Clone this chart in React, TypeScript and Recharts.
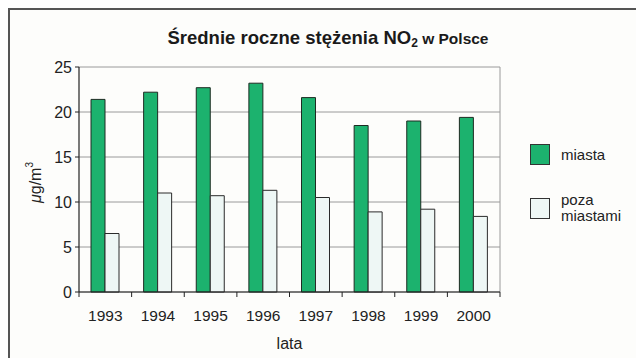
import { Bar, BarChart, CartesianGrid, ReferenceLine, XAxis, YAxis } from 'recharts';

// lata (years) and the two series
const years = ['1993', '1994', '1995', '1996', '1997', '1998', '1999', '2000'];
const miasta = [21.4, 22.2, 22.7, 23.2, 21.6, 18.5, 19.0, 19.4];
const pozaMiastami = [6.5, 11.0, 10.7, 11.3, 10.5, 8.9, 9.2, 8.4];
const yTicks = [0, 5, 10, 15, 20, 25];

const data = years.map((year, i) => ({ year, miasta: miasta[i], poza: pozaMiastami[i] }));

const GREEN = '#1cb26e';
const PALE = '#eef7f5';
const font = '"Liberation Sans", Arial, Helvetica, sans-serif';
const X_TICK_SIZE = 16;
const X_TICK_MARGIN = 2;

// year label plus the small tick marks that sit between the categories
const YearTick = ({ x, y, payload, index, width, visibleTicksCount }: any) => {
  const half = payload?.offset || width / visibleTicksCount / 2;
  const axisY = y - X_TICK_SIZE - X_TICK_MARGIN;
  const last = index === visibleTicksCount - 1;
  return (
    <g>
      <line x1={x - half} x2={x - half} y1={axisY} y2={axisY + 5} stroke="#222" />
      {last && <line x1={x + half} x2={x + half} y1={axisY} y2={axisY + 5} stroke="#222" />}
      <text x={x} y={y} dy="0.71em" textAnchor="middle" fontFamily={font} fontSize={15.5} fill="#222">
        {payload.value}
      </text>
    </g>
  );
};

const YLabel = ({ viewBox }: any) => {
  const cx = viewBox.x + 12;
  const cy = viewBox.y + viewBox.height / 2 + 3;
  return (
    <text
      x={cx}
      y={cy}
      transform={`rotate(-90 ${cx} ${cy})`}
      textAnchor="middle"
      dominantBaseline="central"
      fontFamily={font}
      fontSize={16}
      fill="#222"
    >
      <tspan fontStyle="italic">μ</tspan>g/m
      <tspan fontSize={10} dy={-6}>3</tspan>
    </text>
  );
};

const legendItems = [
  { fill: GREEN, lines: ['miasta'] },
  { fill: PALE, lines: ['poza', 'miastami'] },
];

const LegendBox = () => (
  <div style={{ position: 'absolute', left: 520, top: 134, fontFamily: font, fontSize: 15, color: '#222' }}>
    {legendItems.map((it, i) => (
      <div key={i} style={{ display: 'flex', alignItems: 'center', marginBottom: 27 }}>
        <div style={{ width: 18, height: 19, background: it.fill, border: '1px solid #333', flexShrink: 0 }} />
        <div style={{ marginLeft: 11, lineHeight: '16px' }}>
          {it.lines.map((l) => (
            <div key={l}>{l}</div>
          ))}
        </div>
      </div>
    ))}
  </div>
);

export default function App() {
  return (
    <div
      style={{
        position: 'relative',
        width: 636,
        height: 350,
        background: '#fdfdfb',
        borderTop: '2px solid #555',
        borderLeft: '2px solid #555',
        boxSizing: 'border-box',
      }}
    >
      <div
        style={{
          position: 'absolute',
          left: 0,
          width: 636,
          top: 17,
          textAlign: 'center',
          fontFamily: font,
          fontWeight: 'bold',
          fontSize: 18.5,
          color: '#1a1a1a',
          whiteSpace: 'nowrap',
        }}
      >
        Średnie roczne stężenia NO<sub style={{ fontSize: 12, verticalAlign: '-3px' }}>2</sub>
        <span style={{ fontSize: 15.5 }}> w Polsce</span>
      </div>
      <div style={{ position: 'absolute', left: -2, top: -2 }}>
        <BarChart
          width={636}
          height={350}
          data={data}
          margin={{ top: 59, right: 144, left: 15, bottom: 0 }}
          barCategoryGap={12}
          barGap={0}
        >
          <CartesianGrid vertical={false} stroke="#9a9a9a" strokeWidth={1} />
          <XAxis
            dataKey="year"
            axisLine={{ stroke: '#222', strokeWidth: 1.2 }}
            tickLine={false}
            tickSize={X_TICK_SIZE}
            tickMargin={X_TICK_MARGIN}
            height={66}
            interval={0}
            tick={<YearTick />}
            label={{ value: 'lata', position: 'insideBottom', offset: 9, fontFamily: font, fontSize: 16, fill: '#222' }}
          />
          <YAxis
            width={56}
            domain={[0, 25]}
            ticks={yTicks}
            tickSize={4}
            tickMargin={3}
            tickLine={{ stroke: '#222' }}
            axisLine={{ stroke: '#222', strokeWidth: 1.2 }}
            tick={{ fontFamily: font, fontSize: 16, fill: '#222' }}
            label={<YLabel />}
          />
          <ReferenceLine x="2000" position="end" stroke="#9a9a9a" strokeWidth={1} />
          <Bar dataKey="miasta" fill={GREEN} stroke="#1d2b22" strokeWidth={1} isAnimationActive={false} />
          <Bar dataKey="poza" fill={PALE} stroke="#2a2a2a" strokeWidth={1} isAnimationActive={false} />
        </BarChart>
      </div>
      <LegendBox />
    </div>
  );
}
